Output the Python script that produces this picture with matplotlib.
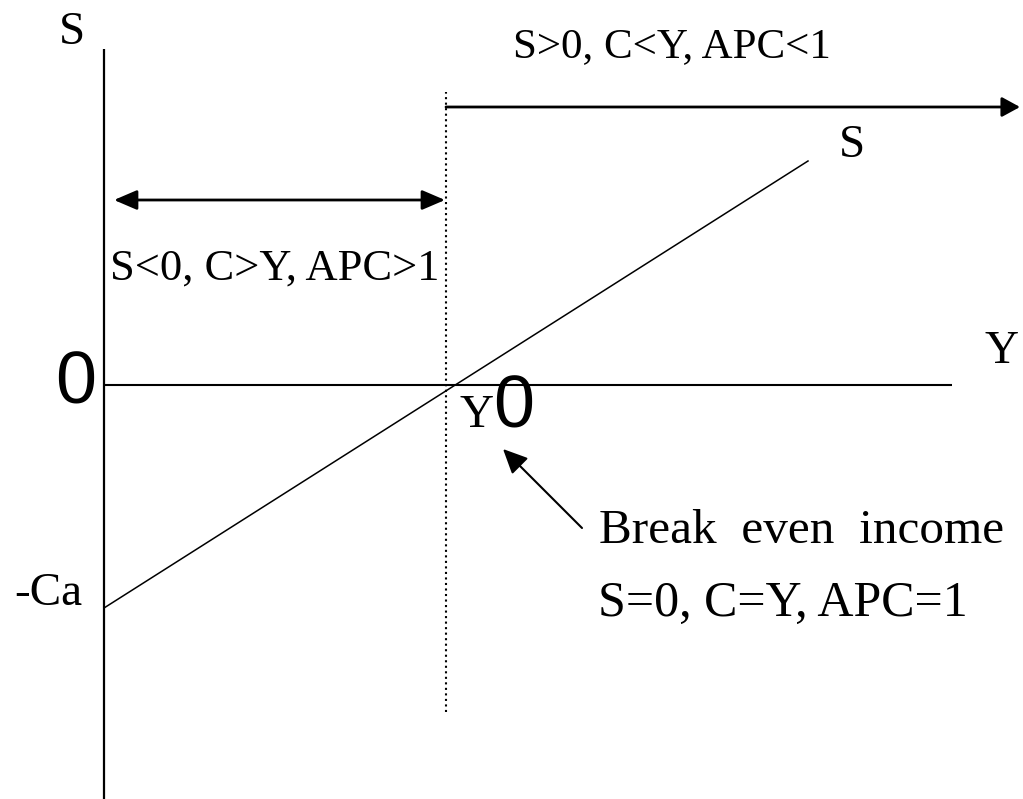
import matplotlib
matplotlib.use("Agg")
import matplotlib.pyplot as plt

# 저축함수 도식 (원점 = 축 교차점, 단위 = 픽셀 기준)
x_min, x_max = -104, 919
y_min, y_max = -414, 385

s_axis = [-414, 336]          # 세로축 S 범위
y_axis = [0, 848]             # 가로축 Y 범위
saving_Y = [0, 704]           # 저축선
saving_S = [-223, 224]
Y0 = 342                      # 손익분기 소득 (점선)
dotted_S = [-327, 293]
top_arrow_S, top_arrow_Y = 278, [342, 916]
dbl_arrow_S, dbl_arrow_Y = 185, [10, 341]
note_tail, note_head = (478, -143), (399, -64)

serif = "Liberation Serif"
sans = "Liberation Sans"

fig = plt.figure(figsize=(10.23, 7.99), dpi=100)
ax = fig.add_axes([0, 0, 1, 1])
ax.set_xlim(x_min, x_max)
ax.set_ylim(y_min, y_max)
ax.axis("off")

# 축
ax.plot([0, 0], s_axis, color="black", lw=1.6, solid_capstyle="butt")
ax.plot(y_axis, [0, 0], color="black", lw=1.5, solid_capstyle="butt")

# 저축선
ax.plot(saving_Y, saving_S, color="black", lw=1.1)

# 점선
ax.plot([Y0, Y0], dotted_S, color="black", lw=1.5, linestyle=":")

# 화살표
ax.annotate("", xy=(top_arrow_Y[1], top_arrow_S), xytext=(top_arrow_Y[0], top_arrow_S),
            arrowprops=dict(arrowstyle="-|>,head_length=0.55,head_width=0.3", lw=2,
                            color="black", mutation_scale=20, shrinkA=0, shrinkB=0))
ax.annotate("", xy=(dbl_arrow_Y[1], dbl_arrow_S), xytext=(dbl_arrow_Y[0], dbl_arrow_S),
            arrowprops=dict(arrowstyle="<|-|>,head_length=0.7,head_width=0.3", lw=2,
                            color="black", mutation_scale=20, shrinkA=0, shrinkB=0))
ax.annotate("", xy=note_head, xytext=note_tail,
            arrowprops=dict(arrowstyle="-|>,head_length=0.75,head_width=0.35", lw=1.5,
                            color="black", mutation_scale=20, shrinkA=0, shrinkB=0))

# 텍스트
ax.text(-32, 341, "S", fontsize=34, family=serif, ha="center", va="baseline")
ax.text(568, 328, "S>0, C<Y, APC<1", fontsize=31, family=serif, ha="center", va="baseline")
ax.text(748, 228, "S", fontsize=34, family=serif, ha="center", va="baseline")
ax.text(171, 105, "S<0, C>Y, APC>1", fontsize=32, family=serif, ha="center", va="baseline")
ax.text(898, 22, "Y", fontsize=34, family=serif, ha="center", va="baseline")
ax.text(-28, -18, "0", fontsize=53, family=sans, ha="center", va="baseline")
ax.text(373, -42, "Y", fontsize=34, family=serif, ha="center", va="baseline")
ax.text(410, -43, "0", fontsize=53, family=sans, ha="center", va="baseline")
ax.text(495, -158, "Break  even  income", fontsize=35.5, family=serif, ha="left", va="baseline")
ax.text(494, -231, "S=0, C=Y, APC=1", fontsize=36, family=serif, ha="left", va="baseline")
ax.text(-22, -220, "-Ca", fontsize=34, family=serif, ha="right", va="baseline")

fig.savefig("out.png", dpi=100)
